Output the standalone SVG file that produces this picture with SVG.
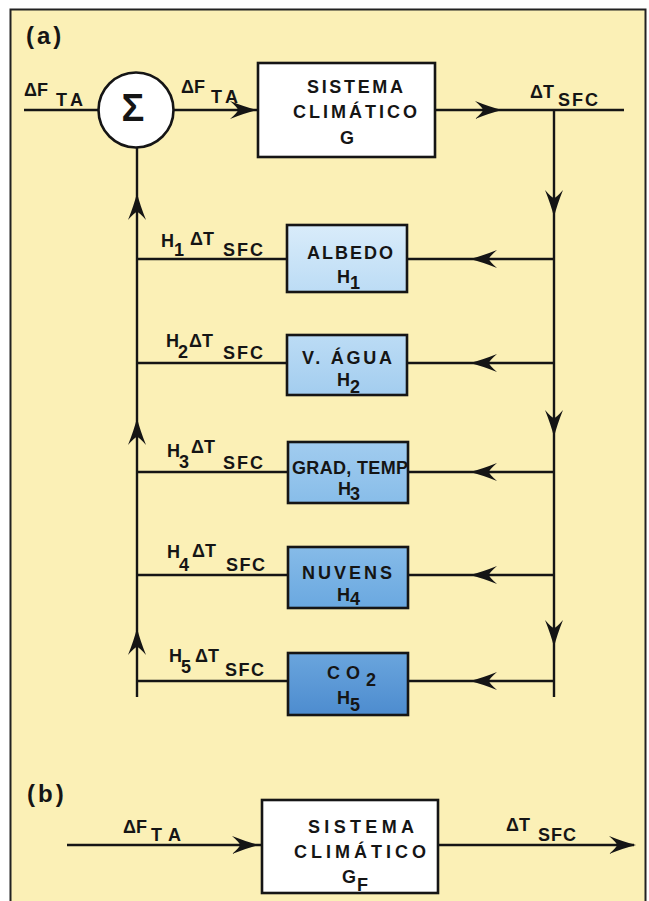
<svg xmlns="http://www.w3.org/2000/svg" xmlns:xlink="http://www.w3.org/1999/xlink" width="649" height="901" viewBox="0 0 649 901">
<style>
.t{font-family:"Liberation Sans",Arial,sans-serif;font-weight:bold;font-size:18px;fill:#151515}
.bx{stroke:#151515;stroke-width:2.6}
.ln{fill:none;stroke:#151515;stroke-width:2.4}
.ah{fill:#151515}
.lab{font-family:"Liberation Sans",Arial,sans-serif;font-weight:bold;font-size:24px;fill:#151515}
</style>
<defs>
<path id="ah" d="M0,0 Q-12,-3 -27,-9 Q-19,-2 -19,0 Q-19,2 -27,9 Q-12,3 0,0 Z"/>
<linearGradient id="g1" x1="0" y1="0" x2="0" y2="1"><stop offset="0" stop-color="#d9ecfa"/><stop offset="1" stop-color="#bcdcf5"/></linearGradient>
<linearGradient id="g2" x1="0" y1="0" x2="0" y2="1"><stop offset="0" stop-color="#bcdcf5"/><stop offset="1" stop-color="#a3cdef"/></linearGradient>
<linearGradient id="g3" x1="0" y1="0" x2="0" y2="1"><stop offset="0" stop-color="#a1ccef"/><stop offset="1" stop-color="#88bde9"/></linearGradient>
<linearGradient id="g4" x1="0" y1="0" x2="0" y2="1"><stop offset="0" stop-color="#86bbe8"/><stop offset="1" stop-color="#6aa8e0"/></linearGradient>
<linearGradient id="g5" x1="0" y1="0" x2="0" y2="1"><stop offset="0" stop-color="#6aa5dd"/><stop offset="1" stop-color="#4d8ccf"/></linearGradient>
</defs>
<rect x="0" y="0" width="649" height="901" fill="#ffffff"/>
<rect x="10.5" y="9.5" width="635" height="900" fill="#fbf0b6" stroke="#222" stroke-width="2"/>

<text class="lab" x="26" y="44" letter-spacing="3">(a)</text>
<text class="lab" x="27" y="802" letter-spacing="3">(b)</text>

<g id="connectors">
<path class="ln" d="M24,110 H98.5"/>
<path class="ln" d="M173.5,110 H258"/>
<path class="ln" d="M435,110 H624"/>
<path class="ln" d="M554,110 V697"/>
<path class="ln" d="M554,259 H407 M287,259 H137"/>
<path class="ln" d="M554,363 H407 M287,363 H137"/>
<path class="ln" d="M554,472 H408 M288,472 H137"/>
<path class="ln" d="M554,575 H408 M288,575 H137"/>
<path class="ln" d="M554,681 H408 M288,681 H137"/>
<path class="ln" d="M137,697 V147.5"/>
<path class="ln" d="M67,845 H262"/>
<path class="ln" d="M438,845 H634"/>
<g class="ah">
<use xlink:href="#ah" transform="translate(257,110)"/>
<use xlink:href="#ah" transform="translate(502,110)"/>
<use xlink:href="#ah" transform="translate(554,217) rotate(90)"/>
<use xlink:href="#ah" transform="translate(554,437) rotate(90)"/>
<use xlink:href="#ah" transform="translate(554,647) rotate(90)"/>
<use xlink:href="#ah" transform="translate(470,259) rotate(180)"/>
<use xlink:href="#ah" transform="translate(470,363) rotate(180)"/>
<use xlink:href="#ah" transform="translate(470,472) rotate(180)"/>
<use xlink:href="#ah" transform="translate(470,575) rotate(180)"/>
<use xlink:href="#ah" transform="translate(470,681) rotate(180)"/>
<use xlink:href="#ah" transform="translate(137,193) rotate(-90)"/>
<use xlink:href="#ah" transform="translate(137,418) rotate(-90)"/>
<use xlink:href="#ah" transform="translate(137,628) rotate(-90)"/>
<use xlink:href="#ah" transform="translate(259,845)"/>
<use xlink:href="#ah" transform="translate(636,845)"/>
</g>
</g>

<g id="labels">
<text class="t"><tspan x="24" y="96">ΔF</tspan><tspan x="56" y="106" textLength="27">TA</tspan></text>
<text class="t"><tspan x="181" y="93">ΔF</tspan><tspan x="211" y="103" textLength="27">TA</tspan></text>
<text class="t"><tspan x="530" y="98">ΔT</tspan><tspan x="558" y="106" textLength="40">SFC</tspan></text>
<text class="t"><tspan x="161" y="247">H</tspan><tspan x="174" y="256">1</tspan><tspan x="190" y="245">ΔT</tspan><tspan x="223" y="256" textLength="40">SFC</tspan></text>
<text class="t"><tspan x="166" y="347">H</tspan><tspan x="178" y="358">2</tspan><tspan x="189" y="347">ΔT</tspan><tspan x="223" y="359" textLength="40">SFC</tspan></text>
<text class="t"><tspan x="167" y="457">H</tspan><tspan x="179" y="468">3</tspan><tspan x="191" y="453">ΔT</tspan><tspan x="223" y="469" textLength="40">SFC</tspan></text>
<text class="t"><tspan x="167" y="558">H</tspan><tspan x="179" y="571">4</tspan><tspan x="192" y="557">ΔT</tspan><tspan x="226" y="571" textLength="39">SFC</tspan></text>
<text class="t"><tspan x="169" y="662">H</tspan><tspan x="181" y="673">5</tspan><tspan x="195" y="662">ΔT</tspan><tspan x="225" y="676" textLength="39">SFC</tspan></text>
<text class="t"><tspan x="123" y="833">ΔF</tspan><tspan x="151" y="841" textLength="30">TA</tspan></text>
<text class="t"><tspan x="506" y="831">ΔT</tspan><tspan x="538" y="841" textLength="38">SFC</tspan></text>
</g>

<g id="sum">
<circle cx="136" cy="110" r="37.5" fill="#ffffff" class="bx"/>
<text x="133" y="121" text-anchor="middle" font-family="Liberation Sans,Arial,sans-serif" font-weight="bold" font-size="38" fill="#151515">Σ</text>
</g>

<g id="sistema-g">
<rect x="258" y="63" width="177" height="94" fill="#ffffff" class="bx"/>
<text class="t" x="307" y="93" textLength="96">SISTEMA</text>
<text class="t" x="293" y="118" textLength="124">CLIMÁTICO</text>
<text class="t" x="340" y="144">G</text>
</g>

<g id="albedo">
<rect x="287" y="225" width="120" height="67" fill="url(#g1)" class="bx"/>
<text class="t" x="307" y="259" textLength="86">ALBEDO</text>
<text class="t"><tspan x="337" y="283">H</tspan><tspan x="350" y="289">1</tspan></text>
</g>

<g id="vagua">
<rect x="287" y="335" width="120" height="60" fill="url(#g2)" class="bx"/>
<text class="t" x="302" y="364" textLength="90">V. ÁGUA</text>
<text class="t"><tspan x="337" y="386">H</tspan><tspan x="350" y="393">2</tspan></text>
</g>

<g id="gradtemp">
<rect x="288" y="442" width="120" height="61" fill="url(#g3)" class="bx"/>
<text class="t" x="292" y="474" font-size="17" textLength="116">GRAD, TEMP</text>
<text class="t" font-size="17"><tspan x="338" y="495">H</tspan><tspan x="350" y="500">3</tspan></text>
</g>

<g id="nuvens">
<rect x="288" y="547" width="120" height="61" fill="url(#g4)" class="bx"/>
<text class="t" x="302" y="579" textLength="90">NUVENS</text>
<text class="t"><tspan x="337" y="601">H</tspan><tspan x="350" y="605">4</tspan></text>
</g>

<g id="co2">
<rect x="288" y="653" width="120" height="62" fill="url(#g5)" class="bx"/>
<text class="t"><tspan x="327" y="679">C</tspan><tspan x="346" y="679">O</tspan><tspan x="366" y="686">2</tspan></text>
<text class="t"><tspan x="337" y="704">H</tspan><tspan x="350" y="711">5</tspan></text>
</g>

<g id="sistema-gf">
<rect x="262" y="800" width="176" height="93" fill="#ffffff" class="bx"/>
<text class="t" x="308" y="833" textLength="106">SISTEMA</text>
<text class="t" x="294" y="858" textLength="132">CLIMÁTICO</text>
<text class="t"><tspan x="342" y="883">G</tspan><tspan x="357" y="891">F</tspan></text>
</g>
</svg>
